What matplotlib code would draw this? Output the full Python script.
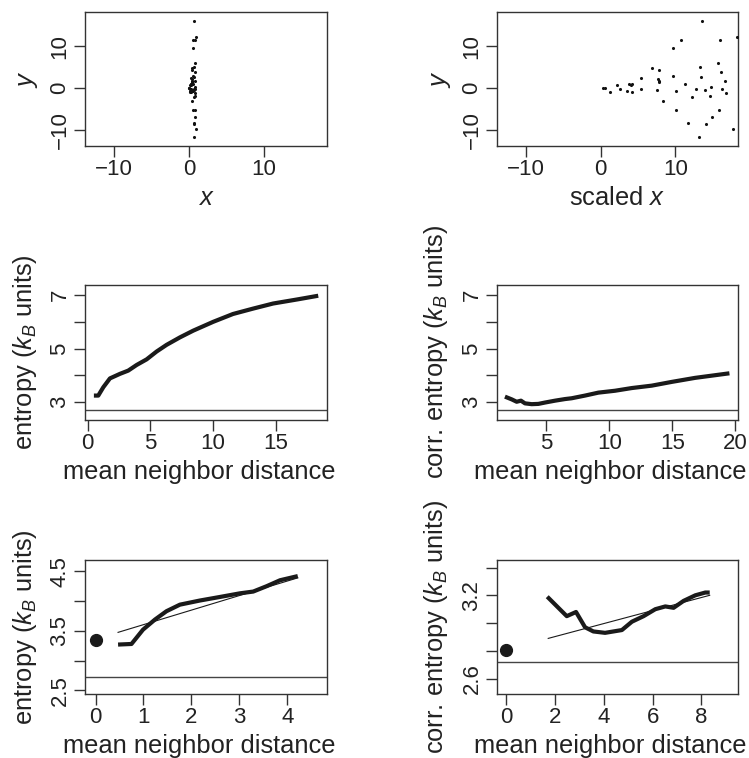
import numpy as np
import matplotlib
matplotlib.use("Agg")
import matplotlib.pyplot as plt

plt.rcParams["font.family"] = ["Liberation Sans", "DejaVu Sans"]
plt.rcParams["mathtext.fontset"] = "custom"
plt.rcParams["mathtext.rm"] = "Liberation Sans"
plt.rcParams["mathtext.it"] = "Liberation Sans:italic"
plt.rcParams["axes.unicode_minus"] = True

# --- data ---
# scatter: scaled x and y (top right); top left uses the unscaled x
scaled_x = [0.36, 0.6, 1.24, 2.22, 2.53, 3.56, 3.73, 4.0, 4.22, 4.13, 5.42, 5.42,
            6.89, 7.82, 7.73, 7.78, 7.56, 7.87, 8.36, 9.73, 9.69, 10.8, 10.09, 10.04,
            11.24, 11.64, 12.22, 12.8, 13.2, 13.29, 13.47, 13.6, 14.0, 14.09, 14.62,
            14.76, 14.98, 15.69, 15.87, 16.0, 16.13, 16.22, 16.71, 16.84, 17.69, 18.3]
y_pts = [-0.08, -0.1, -0.88, 0.8, -0.16, -0.64, 1.04, 0.8, 0.88, -0.96, 2.32, -0.16,
         4.88, 4.24, 2.16, 1.68, -0.56, 1.44, -3.04, 9.6, 2.96, 11.6, -0.8, -5.2,
         0.88, -8.48, -2.24, -0.32, -11.76, 5.04, 2.56, 16.16, -0.48, -8.72, -1.84,
         0.16, -6.96, 6.0, -5.36, 11.52, 3.76, -0.32, 1.6, -1.2, -9.84, 12.3]
x_scale = 20.0

# entropy vs mean neighbor distance
ent_d = [0.5, 0.85, 1.25, 1.78, 2.58, 3.24, 3.91, 4.71, 5.5, 6.3, 7.37, 8.43,
         10.03, 11.6, 13.2, 14.8, 16.7, 18.4]
ent_s = [3.25, 3.25, 3.56, 3.89, 4.06, 4.18, 4.39, 4.6, 4.89, 5.14, 5.42, 5.67,
         6.0, 6.29, 6.49, 6.68, 6.83, 6.97]

corr_d = [1.72, 2.25, 2.65, 2.99, 3.31, 3.84, 4.37, 4.89, 5.69, 6.48, 7.01, 8.07,
          9.13, 10.45, 11.77, 13.36, 14.95, 16.8, 19.52]
corr_s = [3.21, 3.11, 3.02, 3.06, 2.96, 2.93, 2.94, 2.99, 3.06, 3.12, 3.15, 3.25,
          3.36, 3.43, 3.53, 3.62, 3.76, 3.91, 4.08]

ref_level = 2.72

# zoomed in: small distances
ent_d2 = [0.47, 0.75, 0.99, 1.24, 1.48, 1.76, 2.18, 2.6, 3.01, 3.29, 3.57, 3.85, 4.22]
ent_s2 = [3.27, 3.28, 3.52, 3.69, 3.83, 3.94, 4.01, 4.07, 4.13, 4.16, 4.25, 4.35, 4.42]
ent_fit_x = [0.47, 4.22]
ent_fit_y = [3.475, 4.39]
ent_zero = 3.35

corr_d2 = [1.68, 2.48, 2.86, 3.23, 3.57, 4.05, 4.74, 5.15, 5.63, 6.11, 6.52, 6.86,
           7.27, 7.75, 8.16, 8.34]
corr_s2 = [3.19, 3.05, 3.08, 2.97, 2.94, 2.93, 2.95, 3.01, 3.05, 3.10, 3.12, 3.11,
           3.16, 3.20, 3.22, 3.22]
corr_fit_x = [1.72, 8.34]
corr_fit_y = [2.89, 3.20]
corr_zero = 2.81

W, H = 749, 758
fig = plt.figure(figsize=(W / 100, H / 100), dpi=100)

box_col = "#333333"
line_col = "#1a1a1a"
TICK_FS = 16
LAB_FS = 18.4


def add_ax(left, top, right, bottom):
    ax = fig.add_axes([left / W, 1 - bottom / H, (right - left) / W, (bottom - top) / H])
    for s in ax.spines.values():
        s.set_color(box_col)
        s.set_linewidth(1.0)
    ax.tick_params(direction="out", length=8, width=1.0, color=box_col,
                   labelsize=TICK_FS, labelcolor="#222222")
    ax.tick_params(axis="x", pad=1.5)
    ax.tick_params(axis="y", labelrotation=90, pad=2.5)
    wpx = right - left
    hpx = bottom - top
    return ax, wpx, hpx


def labels(ax, wpx, hpx, xl, yl, ypx=52, xshift=0):
    ax.set_xlabel(xl, fontsize=LAB_FS, color="#222222")
    ax.set_ylabel(yl, fontsize=LAB_FS, color="#222222")
    ax.xaxis.label.set_va("baseline")
    ax.yaxis.label.set_va("baseline")
    ax.xaxis.set_label_coords(0.5 + xshift / wpx, -59 / hpx)
    ax.yaxis.set_label_coords(-ypx / wpx, 0.5)


def ytick_labels(ax, ticks, shown):
    ax.set_yticks(ticks)
    ax.set_yticklabels([t if t in shown else "" for t in
                        [("%g" % v) for v in ticks]], va="center")


cols = [(85, 327), (497, 738)]
rows = [(12, 146), (285, 420), (560, 694)]
dist_lab = "mean neighbor distance"

# row 1: scatter
x_raw = np.array(scaled_x) / x_scale
for j, xs in enumerate([x_raw, scaled_x]):
    ax, wpx, hpx = add_ax(cols[j][0], rows[0][0], cols[j][1], rows[0][1])
    ax.scatter(xs, y_pts, s=5, color="#111111", linewidths=0, zorder=3)
    ax.set_xlim(-13.9, 18.4)
    ax.set_ylim(-13.9, 18.2)
    ax.set_xticks([-10, 0, 10])
    ax.set_yticks([-10, 0, 10])
    ax.set_yticklabels(["\u221210", "0", "10"], va="center")
    labels(ax, wpx, hpx, "$x$" if j == 0 else "scaled $x$", "$y$", 52 if j == 0 else 51)

# row 2
ax, wpx, hpx = add_ax(cols[0][0], rows[1][0], cols[0][1], rows[1][1])
ax.plot(ent_d, ent_s, color=line_col, lw=3.0, solid_capstyle="butt")
ax.axhline(ref_level, color="#444444", lw=1.0)
ax.set_xlim(-0.21, 19.1)
ax.set_ylim(2.34, 7.37)
ax.set_xticks([0, 5, 10, 15])
ytick_labels(ax, [3, 4, 5, 6, 7], ["3", "5", "7"])
labels(ax, wpx, hpx, dist_lab, r"entropy ($k_B$ units)", 53, -7)

ax, wpx, hpx = add_ax(cols[1][0], rows[1][0], cols[1][1], rows[1][1])
ax.plot(corr_d, corr_s, color=line_col, lw=3.0, solid_capstyle="butt")
ax.axhline(ref_level, color="#444444", lw=1.0)
ax.set_xlim(1.09, 20.2)
ax.set_ylim(2.34, 7.37)
ax.set_xticks([5, 10, 15, 20])
ytick_labels(ax, [3, 4, 5, 6, 7], ["3", "5", "7"])
labels(ax, wpx, hpx, dist_lab, r"corr. entropy ($k_B$ units)", 54, -7)

# row 3
ax, wpx, hpx = add_ax(cols[0][0], rows[2][0], cols[0][1], rows[2][1])
ax.plot(ent_d2, ent_s2, color=line_col, lw=3.0, solid_capstyle="butt")
ax.plot(ent_fit_x, ent_fit_y, color=line_col, lw=0.8)
ax.plot([0], [ent_zero], "o", color=line_col, ms=8.5)
ax.axhline(ref_level, color="#444444", lw=1.0)
ax.set_xlim(-0.22, 4.83)
ax.set_ylim(2.44, 4.69)
ax.set_xticks([0, 1, 2, 3, 4])
ytick_labels(ax, [2.5, 3.0, 3.5, 4.0, 4.5], ["2.5", "3.5", "4.5"])
labels(ax, wpx, hpx, dist_lab, r"entropy ($k_B$ units)", 53, -7)

ax, wpx, hpx = add_ax(cols[1][0], rows[2][0], cols[1][1], rows[2][1])
ax.plot(corr_d2, corr_s2, color=line_col, lw=3.0, solid_capstyle="butt")
ax.plot(corr_fit_x, corr_fit_y, color=line_col, lw=0.8)
ax.plot([0], [corr_zero], "o", color=line_col, ms=8.5)
ax.axhline(ref_level, color="#444444", lw=1.0)
ax.set_xlim(-0.38, 9.5)
ax.set_ylim(2.49, 3.454)
ax.set_xticks([0, 2, 4, 6, 8])
ytick_labels(ax, [2.6, 2.8, 3.0, 3.2, 3.4], ["2.6", "3.2"])
labels(ax, wpx, hpx, dist_lab, r"corr. entropy ($k_B$ units)", 54, -7)

fig.savefig("out.png", dpi=100)
